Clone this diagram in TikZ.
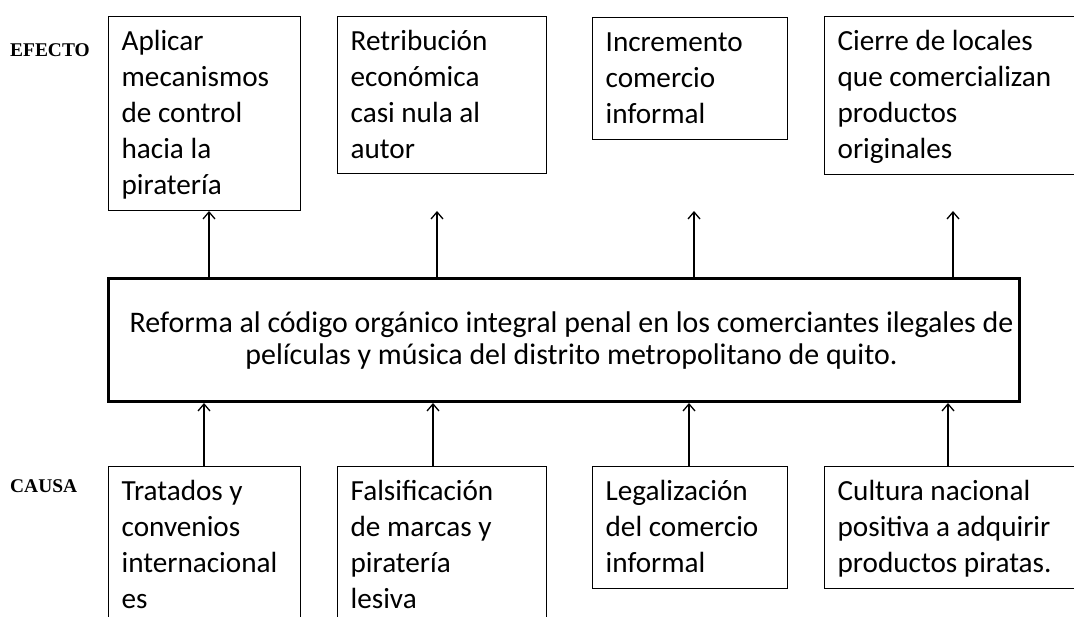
\documentclass[tikz,border=0pt]{standalone}
\usepackage{fontspec}
\setmainfont{Carlito}
\newfontfamily\lblfont{Liberation Serif}
\usetikzlibrary{arrows.meta}
\newcommand\boxtxt[3]{\parbox[t][#2][t]{#1}{\fontsize{29.3}{36}\selectfont\rule{0pt}{34bp}#3}}
\tikzset{
  box/.style={draw, line width=1.3bp, inner xsep=13bp, inner ysep=0pt, anchor=north west},
  mainbox/.style={draw, line width=3bp, inner sep=0pt, anchor=north west},
  arr/.style={line width=1.3bp, -{Straight Barb[length=7bp,width=12bp]}},
  lbl/.style={font=\lblfont\bfseries\fontsize{19.5}{22}\selectfont, anchor=base west, inner sep=0pt}
}
\begin{document}
\begin{tikzpicture}[x=1bp,y=-1bp]
\useasboundingbox (0,0) rectangle (1074,617);
% labels
\node[lbl] (lefecto) at (10,57) {EFECTO};
\node[lbl] (lcausa) at (10,492) {CAUSA};
% effect boxes
\node[box] (e1) at (108,16) {\boxtxt{166bp}{194bp}{Aplicar\\mecanismos\\de control\\hacia la\\piratería}};
\node[box] (e2) at (337,16) {\boxtxt{183bp}{157bp}{Retribución\\económica\\casi nula al\\autor}};
\node[box] (e3) at (592,17) {\boxtxt{169bp}{122bp}{Incremento\\comercio\\informal}};
\node[box] (e4) at (824,16) {\boxtxt{260bp}{158bp}{Cierre de locales\\que comercializan\\productos\\originales}};
% main box
\node[mainbox] (main) at (107,277) {\parbox[t][123bp][t]{911bp}{\centering\fontsize{30}{32}\selectfont\rule{0pt}{54bp}\hspace*{15bp}Reforma al código orgánico integral penal en los comerciantes ilegales de\\\hspace*{15bp}películas y música del distrito metropolitano de quito.}};
% cause boxes
\node[box] (c1) at (108,466) {\boxtxt{166bp}{184bp}{Tratados y\\convenios\\internacional\\es}};
\node[box] (c2) at (337,466) {\boxtxt{183bp}{184bp}{Falsificación\\de marcas y\\piratería\\lesiva}};
\node[box] (c3) at (592,466) {\boxtxt{169bp}{122bp}{Legalización\\del comercio\\informal}};
\node[box] (c4) at (824,466) {\boxtxt{260bp}{122bp}{Cultura nacional\\positiva a adquirir\\productos piratas.}};
% arrow positions
\coordinate (t1) at (209,211);
\coordinate (t2) at (437,211);
\coordinate (t3) at (694,211);
\coordinate (t4) at (953,211);
\coordinate (b1) at (204,0);
\coordinate (b2) at (433,0);
\coordinate (b3) at (689,0);
\coordinate (b4) at (948,0);
% effect arrows
\draw[arr] (main.north -| t1) -- (t1);
\draw[arr] (main.north -| t2) -- (t2);
\draw[arr] (main.north -| t3) -- (t3);
\draw[arr] (main.north -| t4) -- (t4);
% cause arrows
\draw[arr] (c1.north -| b1) -- (main.south -| b1);
\draw[arr] (c2.north -| b2) -- (main.south -| b2);
\draw[arr] (c3.north -| b3) -- (main.south -| b3);
\draw[arr] (c4.north -| b4) -- (main.south -| b4);
\end{tikzpicture}
\end{document}
